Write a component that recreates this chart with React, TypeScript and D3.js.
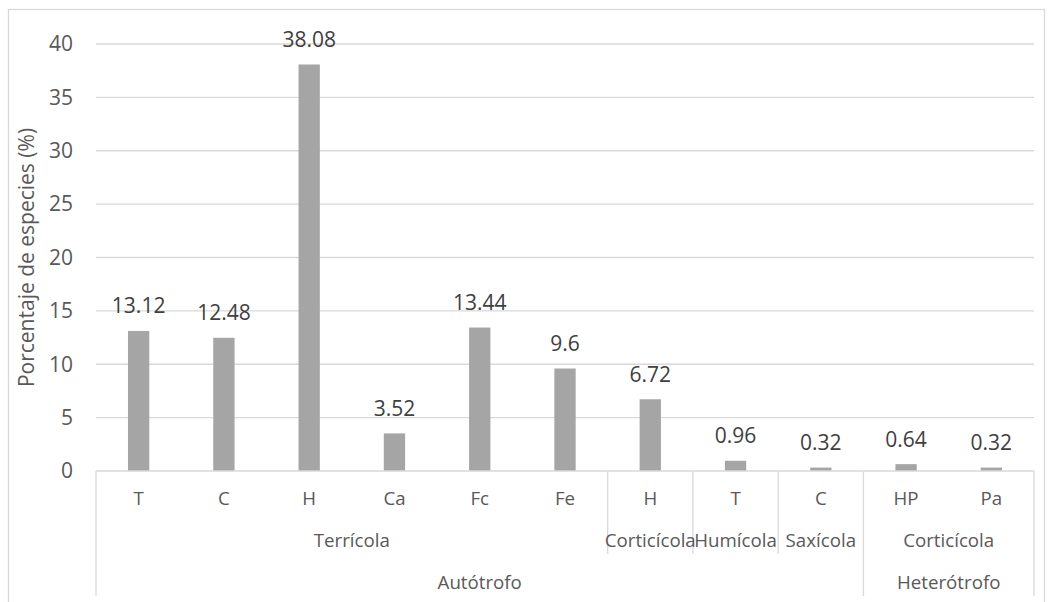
import React from "react";
import * as d3 from "d3";

// Percentage of species per growth form, grouped by habitat and trophic mode
const forms = ["T", "C", "H", "Ca", "Fc", "Fe", "H", "T", "C", "HP", "Pa"];
const percentages = [13.12, 12.48, 38.08, 3.52, 13.44, 9.6, 6.72, 0.96, 0.32, 0.64, 0.32];
const habitats = [
  "Terrícola", "Terrícola", "Terrícola", "Terrícola", "Terrícola", "Terrícola",
  "Corticícola", "Humícola", "Saxícola", "Corticícola", "Corticícola",
];
const trophicModes = [
  "Autótrofo", "Autótrofo", "Autótrofo", "Autótrofo", "Autótrofo", "Autótrofo",
  "Autótrofo", "Autótrofo", "Autótrofo", "Heterótrofo", "Heterótrofo",
];
const yTicks = [0, 5, 10, 15, 20, 25, 30, 35, 40];
const yTitle = "Porcentaje de especies (%)";

const W = 1050;
const H = 602;
const plot = { left: 96, right: 1034, top: 44, bottom: 471 };
const FONT = "'Open Sans', sans-serif";
const TEXT = "#595959";
const LINE = "#d9d9d9";

type Run = { label: string; start: number; end: number };

// Collapse consecutive identical keys into spans of category indices
function runs(keys: string[], labels: string[]): Run[] {
  const out: Run[] = [];
  keys.forEach((k, i) => {
    const last = out[out.length - 1];
    if (last && (last as any).key === k) last.end = i;
    else out.push({ label: labels[i], start: i, end: i, key: k } as any);
  });
  return out;
}

export default function App() {
  const idx = forms.map((_, i) => String(i));
  const x = d3
    .scaleBand<string>()
    .domain(idx)
    .range([plot.left, plot.right])
    .paddingInner(0.75)
    .paddingOuter(0.375);
  const step = x.step();
  const edge = (i: number) => plot.left + i * step;
  const y = d3.scaleLinear().domain([0, 40]).range([plot.bottom, plot.top]);

  const habitatRuns = runs(
    habitats.map((h, i) => trophicModes[i] + "|" + h),
    habitats
  );
  const trophicRuns = runs(trophicModes, trophicModes);

  const row1 = 505;
  const row2 = 547;
  const row3 = 589;
  const shortEnd = 554;
  const longEnd = 596;

  const trophicBounds = new Set<number>(trophicRuns.map((r) => r.start));
  trophicBounds.add(forms.length);

  return (
    <svg
      width={W}
      height={H}
      style={{ position: "absolute", left: 0, top: 0, background: "#fff" }}
      fontFamily={FONT}
    >
      {/* chart frame */}
      <rect x={8.5} y={9.5} width={1036} height={620} fill="#fff" stroke={LINE} strokeWidth={1.3} />

      {/* gridlines */}
      {yTicks.slice(1).map((t) => (
        <line key={t} x1={plot.left} x2={plot.right} y1={y(t)} y2={y(t)} stroke={LINE} strokeWidth={1.3} />
      ))}

      {/* y tick labels */}
      {yTicks.map((t) => (
        <text key={t} x={73} y={y(t)} dy="0.35em" textAnchor="end" fontSize={21} fill={TEXT}>
          {t}
        </text>
      ))}

      {/* y axis title */}
      <text
        transform={`translate(34,${(plot.top + plot.bottom) / 2}) rotate(-90)`}
        textAnchor="middle"
        fontSize={21}
        fill={TEXT}
      >
        {yTitle}
      </text>

      {/* bars */}
      {percentages.map((v, i) => (
        <rect key={i} x={x(String(i))} y={y(v)} width={x.bandwidth()} height={y(0) - y(v)} fill="#a5a5a5" />
      ))}

      {/* data labels */}
      {percentages.map((v, i) => (
        <text
          key={i}
          x={(x(String(i)) as number) + x.bandwidth() / 2}
          y={y(v) - 17.5}
          textAnchor="middle"
          fontSize={21}
          fill="#404040"
        >
          {String(v)}
        </text>
      ))}

      {/* category axis baseline */}
      <line x1={plot.left} x2={plot.right} y1={plot.bottom} y2={plot.bottom} stroke={LINE} strokeWidth={1.3} />

      {/* separators between habitat groups and trophic groups */}
      {habitatRuns.map((r) => {
        const b = r.start;
        const long = trophicBounds.has(b);
        return (
          <line key={"s" + b} x1={edge(b)} x2={edge(b)} y1={plot.bottom} y2={long ? longEnd : shortEnd} stroke={LINE} strokeWidth={1.3} />
        );
      })}
      <line x1={edge(forms.length)} x2={edge(forms.length)} y1={plot.bottom} y2={longEnd} stroke={LINE} strokeWidth={1.3} />

      {/* level 1: growth forms */}
      {forms.map((f, i) => (
        <text key={i} x={(x(String(i)) as number) + x.bandwidth() / 2} y={row1} textAnchor="middle" fontSize={18.7} fill={TEXT}>
          {f}
        </text>
      ))}

      {/* level 2: habitats */}
      {habitatRuns.map((r) => (
        <text key={"h" + r.start} x={(edge(r.start) + edge(r.end + 1)) / 2} y={row2} textAnchor="middle" fontSize={18.7} fill={TEXT}>
          {r.label}
        </text>
      ))}

      {/* level 3: trophic modes */}
      {trophicRuns.map((r) => (
        <text key={"t" + r.start} x={(edge(r.start) + edge(r.end + 1)) / 2} y={row3} textAnchor="middle" fontSize={18.7} fill={TEXT}>
          {r.label}
        </text>
      ))}
    </svg>
  );
}
